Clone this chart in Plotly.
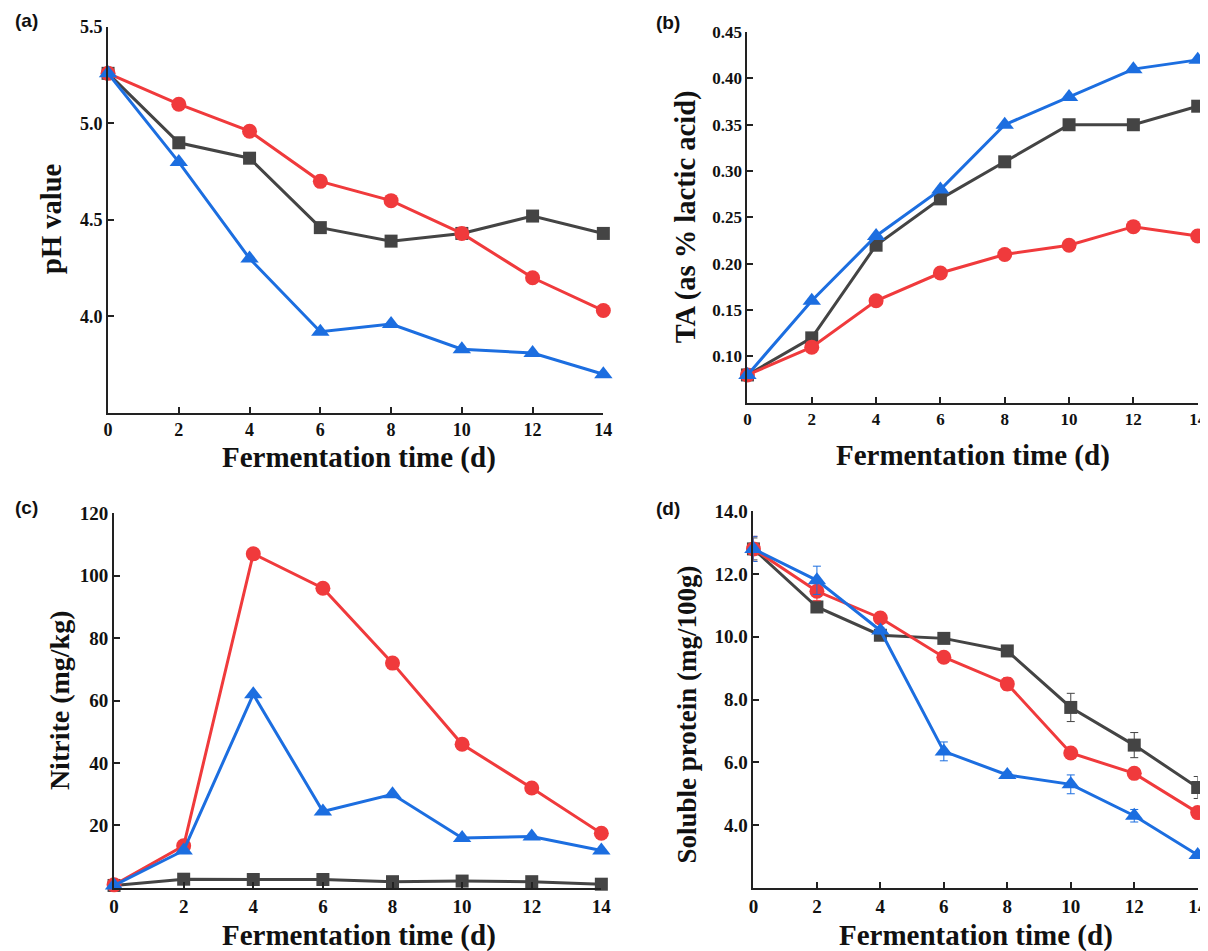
import plotly.graph_objects as go

days = [0, 2, 4, 6, 8, 10, 12, 14]
x_ticks = [0, 2, 4, 6, 8, 10, 12, 14]

# (a) pH
ph_black = [5.26, 4.90, 4.82, 4.46, 4.39, 4.43, 4.52, 4.43]
ph_red = [5.26, 5.10, 4.96, 4.70, 4.60, 4.43, 4.20, 4.03]
ph_blue = [5.26, 4.80, 4.30, 3.92, 3.96, 3.83, 3.81, 3.70]

# (b) TA
ta_black = [0.08, 0.12, 0.22, 0.27, 0.31, 0.35, 0.35, 0.37]
ta_red = [0.08, 0.11, 0.16, 0.19, 0.21, 0.22, 0.24, 0.23]
ta_blue = [0.08, 0.16, 0.23, 0.28, 0.35, 0.38, 0.41, 0.42]

# (c) Nitrite
ni_black = [0.8, 2.8, 2.7, 2.7, 2.0, 2.2, 2.0, 1.2]
ni_red = [1.0, 13.5, 107.0, 96.0, 72.0, 46.0, 32.0, 17.5]
ni_blue = [0.8, 12.0, 62.0, 24.5, 30.0, 16.0, 16.5, 12.0]

# (d) Soluble protein
sp_black = [12.8, 10.95, 10.05, 9.95, 9.55, 7.75, 6.55, 5.2]
sp_red = [12.8, 11.45, 10.6, 9.35, 8.5, 6.3, 5.65, 4.4]
sp_blue = [12.8, 11.8, 10.2, 6.35, 5.6, 5.3, 4.3, 3.05]
sp_black_err = [0.35, 0.15, 0.1, 0.1, 0.1, 0.45, 0.4, 0.35]
sp_red_err = [0.4, 0.3, 0.1, 0.1, 0.2, 0.1, 0.1, 0.1]
sp_blue_err = [0.4, 0.45, 0.1, 0.3, 0.1, 0.3, 0.2, 0.1]

BLACK = "#444444"
RED = "#f03a3c"
BLUE = "#1c6ee0"

W, H = 1208, 951
SX, OX = 0.987, 12.0
SY, OY = 0.985, 19.0


def X(px):
    return (px - OX) / SX


def Y(py):
    return (py - OY) / SY


def xd(a, b):
    return [max(0, X(a) / W), min(1, X(b) / W)]


def yd(top, bottom):
    return [max(0, 1 - Y(bottom) / H), min(1, 1 - Y(top) / H)]


panels = [
    dict(xd=xd(107, 602), yd=yd(28, 412), yr=[3.5, 5.5], yt=[4.0, 4.5, 5.0, 5.5], fmt="{:.1f}",
         data=(ph_black, ph_red, ph_blue), errs=None, ytitle="pH value", ytx=51, yty=219, yts=28.5,
         xtx=358, xty=457, lab="(a)", labx=10, laby=21, tf=18, xtf=18),
    dict(xd=xd(746, 1196), yd=yd(33, 402), yr=[0.05, 0.45],
         yt=[0.10, 0.15, 0.20, 0.25, 0.30, 0.35, 0.40, 0.45], fmt="{:.2f}",
         data=(ta_black, ta_red, ta_blue), errs=None, ytitle="TA (as % lactic acid)", ytx=685, yty=217,
         yts=28.5, xtx=971, xty=455, lab="(b)", labx=656, laby=23, tf=17, xtf=17),
    dict(xd=xd(113, 600), yd=yd(512, 885), yr=[0, 120], yt=[20, 40, 60, 80, 100, 120], fmt="{:d}",
         data=(ni_black, ni_red, ni_blue), errs=None, ytitle="Nitrite (mg/kg)", ytx=58, yty=698,
         yts=28, xtx=358, xty=932, lab="(c)", labx=12, laby=506, tf=19, xtf=19),
    dict(xd=xd(752, 1196), yd=yd(510, 885), yr=[2, 14], yt=[4.0, 6.0, 8.0, 10.0, 12.0, 14.0], fmt="{:.1f}",
         data=(sp_black, sp_red, sp_blue), errs=(sp_black_err, sp_red_err, sp_blue_err),
         ytitle="Soluble protein (mg/100g)", ytx=686, yty=712, yts=27,
         xtx=974, xty=932, lab="(d)", labx=656, laby=507, tf=19, xtf=19),
]

fig = go.Figure()
styles = [(BLACK, "square", 13), (RED, "circle", 15), (BLUE, "triangle-up", 16)]
serif = "Liberation Serif, Times New Roman, serif"

annotations = []
for i, p in enumerate(panels):
    k = "" if i == 0 else str(i + 1)
    for j, (col, sym, sz) in enumerate(styles):
        err = None
        if p["errs"] is not None:
            err = dict(type="data", array=p["errs"][j], visible=True, color=col,
                       thickness=1, width=4)
        fig.add_trace(go.Scatter(
            x=days, y=p["data"][j], mode="lines+markers",
            line=dict(color=col, width=3),
            marker=dict(color=col, symbol=sym, size=sz),
            error_y=err, cliponaxis=False, showlegend=False,
            xaxis="x" + k, yaxis="y" + k))
    axis_common = dict(showline=True, linecolor="#222222", linewidth=2, ticks="inside",
                       ticklen=6, tickwidth=1.5, tickcolor="#222222", showgrid=False,
                       zeroline=False, mirror=False)
    fig.update_layout(**{
        "xaxis" + k: dict(domain=p["xd"], range=[0, 14], tickvals=x_ticks,
                          ticktext=[str(v) for v in x_ticks], anchor="y" + k,
                          tickfont=dict(family=serif, size=p["xtf"], color="#111111", weight="bold"),
                          **axis_common),
        "yaxis" + k: dict(domain=p["yd"], range=p["yr"], tickvals=p["yt"],
                          ticktext=[p["fmt"].format(v) for v in p["yt"]], anchor="x" + k,
                          tickfont=dict(family=serif, size=p["tf"], color="#111111", weight="bold"),
                          **axis_common),
    })
    annotations.append(dict(text="<b>Fermentation time (d)</b>", x=X(p["xtx"]) / W,
                            y=1 - Y(p["xty"]) / H,
                            xref="paper", yref="paper", showarrow=False, xanchor="center",
                            yanchor="middle", font=dict(family=serif, size=29, color="#111111")))
    annotations.append(dict(text="<b>" + p["ytitle"] + "</b>", x=X(p["ytx"]) / W,
                            y=1 - Y(p["yty"]) / H,
                            xref="paper", yref="paper", showarrow=False, xanchor="center",
                            yanchor="middle", textangle=-90,
                            font=dict(family=serif, size=p["yts"], color="#111111")))
    annotations.append(dict(text="<b>" + p["lab"] + "</b>", x=max(0, X(p["labx"]) - 3) / W,
                            y=1 - Y(p["laby"]) / H,
                            xref="paper", yref="paper", showarrow=False, xanchor="left",
                            yanchor="middle",
                            font=dict(family="Liberation Sans, Arial, sans-serif", size=19,
                                      color="#111111")))

fig.update_layout(width=W, height=H, margin=dict(l=0, r=0, t=0, b=0),
                  paper_bgcolor="white", plot_bgcolor="white", annotations=annotations)

fig.write_html("out.html")
